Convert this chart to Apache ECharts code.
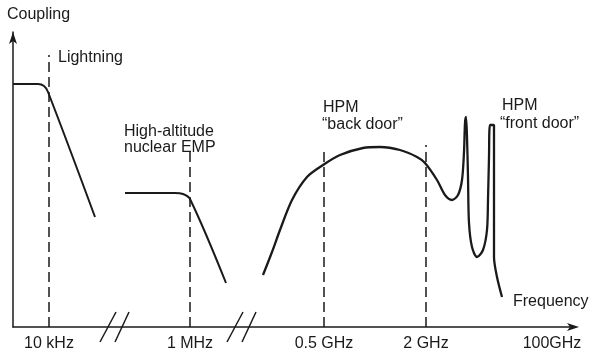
<!DOCTYPE html>
<html>
<head>
<meta charset="utf-8">
<script src="https://cdn.jsdelivr.net/npm/echarts@6/dist/echarts.min.js"></script>
<style>
  html, body { margin: 0; padding: 0; background: #fff; }
  #main { width: 591px; height: 355px; }
</style>
</head>
<body>
<div id="main"></div>
<script>
// 横轴位置（示意单位）与刻度文字
var freqPos = [36, 177, 311, 413, 539];
var freqLabels = ['10 kHz', '1 MHz', '0.5 GHz', '2 GHz', '100GHz'];
// 虚线高度（与前四个刻度对应）
var markTop = [272, 175, 179, 182];
// 轴断开位置
var breakAt = [89, 216];

// 雷电
var lightning = [[0, 243], [25, 243], [31, 241], [35, 235], [82, 110]];
// 高空核电磁脉冲
var hemp = [[112, 134], [162, 134], [170, 133], [177, 128], [213, 44]];
// 高功率微波
var hpm = [
  [250, 52], [259, 75], [267, 97], [279, 127], [294, 150], [310, 162],
  [327, 172], [350, 179], [367, 180], [387, 177], [404, 170], [412, 164],
  [424, 147], [432, 132], [439, 127], [445, 132], [449, 147], [451, 175],
  [452, 204], [453, 210], [454, 190], [455, 150], [456, 104], [459, 80],
  [464, 70], [470, 77], [474, 97], [475, 127], [476, 170], [477, 202],
  [481, 202], [481, 137], [481, 70], [484, 50], [489, 30]
];

var ink = '#1a1a1a';
var font = '16px "Liberation Sans", Arial, sans-serif';

var myChart = echarts.init(document.getElementById('main'));

function $each(arr, fn) { for (var i = 0; i < arr.length; i++) fn(i, arr[i]); }

var markData = [];
$each(markTop, function(i, t) {
  markData.push([{ coord: [freqPos[i], 0] }, { coord: [freqPos[i], t] }]);
});

function curve(name, data, extra) {
  var s = {
    name: name,
    type: 'line',
    data: data,
    smooth: 0.35,
    symbol: 'none',
    lineStyle: { color: ink, width: 2 }
  };
  if (extra) for (var k in extra) s[k] = extra[k];
  return s;
}

var option = {
  animation: false,
  grid: { left: 13, top: 32, right: 16, bottom: 28 },
  xAxis: {
    type: 'value',
    min: 0,
    max: 562,
    splitLine: { show: false },
    axisTick: { show: false },
    axisLine: {
      lineStyle: { color: ink, width: 1.5 },
      symbol: ['none', 'arrow'],
      symbolSize: [6, 12],
      symbolOffset: [0, 4]
    },
    axisLabel: {
      customValues: freqPos,
      margin: 9,
      color: ink,
      fontSize: 16,
      fontFamily: '"Liberation Sans", Arial, sans-serif',
      formatter: function(v) {
        var i = freqPos.indexOf(v);
        return i >= 0 ? freqLabels[i] : '';
      }
    }
  },
  yAxis: {
    type: 'value',
    min: 0,
    max: 295,
    splitLine: { show: false },
    axisTick: { show: false },
    axisLabel: { show: false },
    axisLine: {
      lineStyle: { color: ink, width: 1.5 },
      symbol: ['none', 'arrow'],
      symbolSize: [6, 12]
    }
  },
  series: [
    curve('Lightning', lightning, {
      markLine: {
        silent: true,
        symbol: 'none',
        label: { show: false },
        lineStyle: { color: ink, width: 1.5, type: [10, 5] },
        data: markData
      }
    }),
    curve('HEMP', hemp),
    curve('HPM', hpm, { smooth: 0.3, lineStyle: { color: ink, width: 2.3 } }),
    {
      // 轴断开符号 //
      type: 'custom',
      data: breakAt,
      renderItem: function(params, api) {
        var p = api.coord([api.value(0), 0]);
        var st = { stroke: ink, lineWidth: 1.5 };
        return {
          type: 'group',
          children: [
            { type: 'line', shape: { x1: p[0] - 2, y1: p[1] + 15, x2: p[0] + 14, y2: p[1] - 15 }, style: st },
            { type: 'line', shape: { x1: p[0] + 13, y1: p[1] + 15, x2: p[0] + 27, y2: p[1] - 15 }, style: st }
          ]
        };
      }
    }
  ],
  graphic: [
    { type: 'text', style: { text: 'Coupling', x: 7, y: 15, font: font, fill: ink, verticalAlign: 'middle' } },
    { type: 'text', style: { text: 'Lightning', x: 58, y: 58, font: font, fill: ink, verticalAlign: 'middle' } },
    { type: 'text', style: { text: 'High-altitude', x: 124, y: 132, font: font, fill: ink, verticalAlign: 'middle' } },
    { type: 'text', style: { text: 'nuclear EMP', x: 124, y: 148, font: font, fill: ink, verticalAlign: 'middle' } },
    { type: 'text', style: { text: 'HPM', x: 323, y: 108, font: font, fill: ink, verticalAlign: 'middle' } },
    { type: 'text', style: { text: '\u201cback door\u201d', x: 322, y: 125, font: font, fill: ink, verticalAlign: 'middle' } },
    { type: 'text', style: { text: 'HPM', x: 502, y: 106, font: font, fill: ink, verticalAlign: 'middle' } },
    { type: 'text', style: { text: '\u201cfront door\u201d', x: 500, y: 124, font: font, fill: ink, verticalAlign: 'middle' } },
    { type: 'text', style: { text: 'Frequency', x: 513, y: 302, font: font, fill: ink, verticalAlign: 'middle' } }
  ]
};

myChart.setOption(option);
</script>
</body>
</html>
